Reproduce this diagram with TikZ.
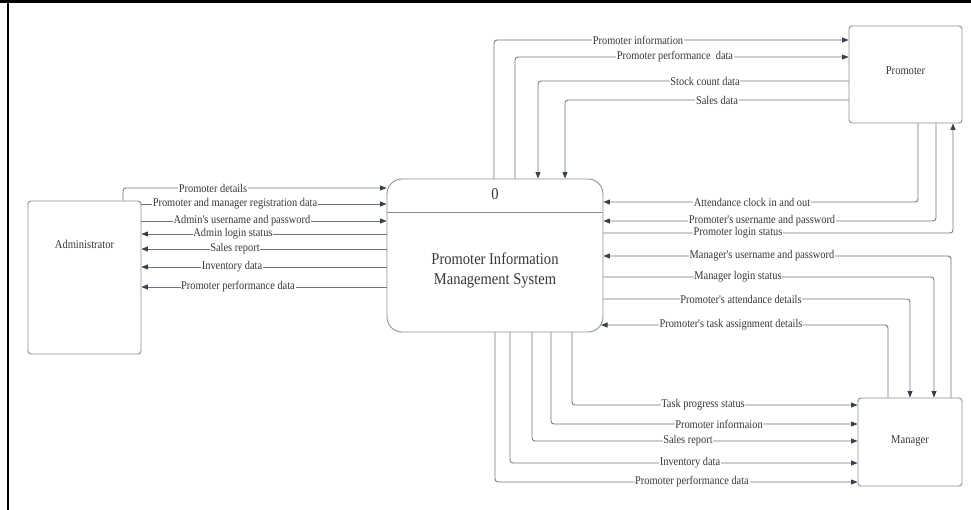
\documentclass[tikz,border=0pt]{standalone}
\usepackage{fontspec}
\setmainfont{Liberation Serif}
\newfontfamily\narrowserif[FakeStretch=0.88]{Liberation Serif}
\usetikzlibrary{arrows.meta}
\definecolor{linec}{RGB}{112,116,122}
\definecolor{tipc}{RGB}{58,64,74}
\definecolor{boxc}{RGB}{140,142,146}
\definecolor{txtc}{RGB}{55,55,58}
\tikzset{
  box/.style={draw=boxc, line width=0.9pt, rounded corners=3pt, inner sep=0pt},
  boxtext/.style={text=txtc, font=\narrowserif\fontsize{12}{14}\selectfont, inner sep=0pt},
  flow/.style={draw=linec, line width=0.85pt, rounded corners=3pt,
    -{Triangle[length=6.5pt,width=5pt,color=tipc]}},
  lbl/.style={fill=white, text=txtc, inner sep=0.7pt,
    font=\narrowserif\fontsize{11.8}{13}\selectfont}
}
\begin{document}
\begin{tikzpicture}[x=1pt,y=-1pt]
\useasboundingbox (0,0) rectangle (971,510);
% frame edges
\draw[black, line width=3pt] (0,1.5) -- (971,1.5);
\draw[black, line width=2pt] (8.3,0) -- (8.3,510);

% external entities and the process
\node[box, minimum width=113pt, minimum height=153pt] (adm) at (84.5,277.5) {};
\node[boxtext] (admt) at (84.5,244) {Administrator};
\node[box, minimum width=113pt, minimum height=97pt] (prom) at (905.5,74.5) {};
\node[boxtext] (promt) at (905.5,71) {Promoter};
\node[box, minimum width=104pt, minimum height=88pt] (mgr) at (910,442) {};
\node[boxtext] (mgrt) at (910,441) {Manager};
\node[box, rounded corners=15pt, minimum width=216pt, minimum height=153pt] (sys) at (495,255.5) {};
\draw[boxc, line width=0.9pt] (sys.west |- 0,212) -- (sys.east |- 0,212);
\node[text=txtc, font=\narrowserif\fontsize{16.5}{19}\selectfont, inner sep=0pt] (sysnum) at (495,194) {0};
\node[text=txtc, font=\narrowserif\fontsize{16.5}{19.5}\selectfont, inner sep=0pt, align=center] (sysname) at (495,270.5)
  {Promoter Information\\Management System};

% process <-> Promoter (top)
\draw[flow] (494,0 |- sys.north) |- (prom.west |- 0,40);
\draw[flow] (515,0 |- sys.north) |- (prom.west |- 0,57);
\draw[flow] (prom.west |- 0,81) -| (538,0 |- sys.north);
\draw[flow] (prom.west |- 0,100) -| (565,0 |- sys.north);
% Promoter <-> process (right)
\draw[flow] (918,0 |- prom.south) |- (sys.east |- 0,202);
\draw[flow] (936,0 |- prom.south) |- (sys.east |- 0,221);
\draw[flow] (sys.east |- 0,233) -| (953,0 |- prom.south);
% Manager <-> process (right)
\draw[flow] (951,0 |- mgr.north) |- (sys.east |- 0,256);
\draw[flow] (sys.east |- 0,277) -| (934,0 |- mgr.north);
\draw[flow] (sys.east |- 0,299) -| (910,0 |- mgr.north);
\draw[flow] (888,0 |- mgr.north) |- (601,325);
% process -> Manager (bottom)
\draw[flow] (572,0 |- sys.south) |- (mgr.west |- 0,405);
\draw[flow] (551,0 |- sys.south) |- (mgr.west |- 0,424);
\draw[flow] (532,0 |- sys.south) |- (mgr.west |- 0,441);
\draw[flow] (510,0 |- sys.south) |- (mgr.west |- 0,463);
\draw[flow] (495,0 |- sys.south) |- (mgr.west |- 0,482);
% Administrator <-> process (left)
\draw[flow] (123,0 |- adm.north) |- (sys.west |- 0,188);
\draw[flow] (adm.east |- 0,204) -- (sys.west |- 0,204);
\draw[flow] (adm.east |- 0,221) -- (sys.west |- 0,221);
\draw[flow] (sys.west |- 0,234) -- (adm.east |- 0,234);
\draw[flow] (sys.west |- 0,249) -- (adm.east |- 0,249);
\draw[flow] (sys.west |- 0,267) -- (adm.east |- 0,267);
\draw[flow] (sys.west |- 0,287) -- (adm.east |- 0,287);

% flow labels
\node[lbl] (l1) at (638,40) {Promoter information};
\node[lbl] (l2) at (675,57) {Promoter performance~ data};
\node[lbl] (l3) at (705,81) {Stock count data};
\node[lbl] (l4) at (717,100) {Sales data};
\node[lbl] (l5) at (752,202) {Attendance clock in and out};
\node[lbl] (l6) at (762,221) {Promoter's username and password};
\node[lbl] (l7) at (738,233) {Promoter login status};
\node[lbl] (l8) at (762,256) {Manager's username and password};
\node[lbl] (l9) at (738,277) {Manager login status};
\node[lbl] (l10) at (741,299) {Promoter's attendance details};
\node[lbl] (l11) at (731,325) {Promoter's task assignment details};
\node[lbl] (l12) at (703,405) {Task progress status};
\node[lbl] (l13) at (719,424) {Promoter informaion};
\node[lbl] (l14) at (688,441) {Sales report};
\node[lbl] (l15) at (690,463) {Inventory data};
\node[lbl] (l16) at (692,482) {Promoter performance data};
\node[lbl] (l17) at (213,188) {Promoter details};
\node[lbl] (l18) at (235,204) {Promoter and manager registration data};
\node[lbl] (l19) at (242,221) {Admin's username and password};
\node[lbl] (l20) at (233,234) {Admin login status};
\node[lbl] (l21) at (235,249) {Sales report};
\node[lbl] (l22) at (232,267) {Inventory data};
\node[lbl] (l23) at (238,287) {Promoter performance data};
\end{tikzpicture}
\end{document}
